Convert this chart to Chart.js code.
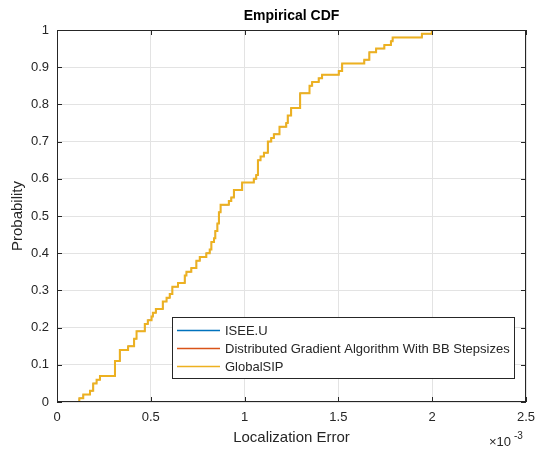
<!DOCTYPE html>
<html>
<head>
<meta charset="utf-8">
<script src="https://cdn.jsdelivr.net/npm/chart.js@4.4.1/dist/chart.umd.min.js"></script>
<style>
  html, body { margin: 0; padding: 0; background: #fff; }
  #wrap { width: 536px; height: 452px; }
</style>
</head>
<body>
<div id="wrap"><canvas id="cdf"></canvas></div>
<script>
// step positions (x10^-3) and the cdf value reached at each step
const errX = [0.119, 0.119, 0.140, 0.176, 0.193, 0.211, 0.229, 0.309, 0.335, 0.379, 0.411, 0.424,
  0.468, 0.484, 0.504, 0.511, 0.527, 0.564, 0.584, 0.601, 0.615, 0.645, 0.681, 0.690, 0.716,
  0.743, 0.761, 0.796, 0.814, 0.823, 0.837, 0.844, 0.855, 0.863, 0.872, 0.916, 0.929, 0.943,
  0.987, 1.049, 1.062, 1.071, 1.085, 1.103, 1.124, 1.142, 1.156, 1.186, 1.222, 1.230, 1.248,
  1.296, 1.346, 1.360, 1.395, 1.413, 1.502, 1.520, 1.638, 1.665, 1.701, 1.745, 1.780, 1.789,
  1.945, 1.998];
const cdfP = [0, 0.01, 0.02, 0.03, 0.05, 0.06, 0.07, 0.11, 0.14, 0.15, 0.17, 0.19,
  0.21, 0.22, 0.23, 0.24, 0.25, 0.27, 0.28, 0.29, 0.31, 0.32, 0.34, 0.35, 0.36,
  0.38, 0.39, 0.40, 0.41, 0.43, 0.44, 0.46, 0.48, 0.51, 0.53, 0.54, 0.55, 0.57,
  0.59, 0.60, 0.61, 0.65, 0.66, 0.67, 0.70, 0.71, 0.72, 0.74, 0.75, 0.77, 0.79,
  0.83, 0.85, 0.86, 0.87, 0.88, 0.89, 0.91, 0.92, 0.94, 0.95, 0.96, 0.97, 0.98,
  0.99, 1.00];

const seriesNames = ['ISEE.U', 'Distributed Gradient Algorithm With BB Stepsizes', 'GlobalSIP'];
const seriesColors = ['#0072BD', '#D95319', '#EDB120'];
const xTicks = [0, 0.5, 1, 1.5, 2, 2.5];
const yTicks = [0, 0.1, 0.2, 0.3, 0.4, 0.5, 0.6, 0.7, 0.8, 0.9, 1];

const FONT = '"Liberation Sans", Arial, Helvetica, sans-serif';
const INK = '#262626';

const points = errX.map((x, i) => ({x: x, y: cdfP[i]}));

// frame, inward ticks, titles, exponent and legend, drawn matlab style
const matlabBits = {
  id: 'matlabBits',
  afterDraw(chart) {
    const ctx = chart.ctx;
    const a = chart.chartArea;
    const sx = chart.scales.x, sy = chart.scales.y;
    ctx.save();
    ctx.strokeStyle = INK;
    ctx.lineWidth = 1;
    ctx.strokeRect(a.left + 0.5, a.top + 0.5, a.right - a.left - 1, a.bottom - a.top - 1);
    ctx.beginPath();
    xTicks.forEach(t => {
      const px = Math.round(sx.getPixelForValue(t)) + 0.5;
      ctx.moveTo(px, a.bottom); ctx.lineTo(px, a.bottom - 5);
      ctx.moveTo(px, a.top); ctx.lineTo(px, a.top + 5);
    });
    yTicks.forEach(t => {
      const py = Math.round(sy.getPixelForValue(t)) + 0.5;
      ctx.moveTo(a.left, py); ctx.lineTo(a.left + 5, py);
      ctx.moveTo(a.right, py); ctx.lineTo(a.right - 5, py);
    });
    ctx.stroke();

    ctx.fillStyle = '#000';
    ctx.font = 'bold 14px ' + FONT;
    ctx.textAlign = 'center';
    ctx.textBaseline = 'middle';
    ctx.fillText('Empirical CDF', (a.left + a.right) / 2, 16);

    ctx.fillStyle = INK;
    ctx.font = '15px ' + FONT;
    ctx.fillText('Localization Error', (a.left + a.right) / 2, 438);
    ctx.save();
    ctx.translate(18, (a.top + a.bottom) / 2);
    ctx.rotate(-Math.PI / 2);
    ctx.fillText('Probability', 0, 0);
    ctx.restore();

    // x10^-3
    ctx.textAlign = 'left';
    ctx.font = '13px ' + FONT;
    ctx.fillText('\u00d710', 489, 442);
    ctx.font = '10px ' + FONT;
    ctx.fillText('-3', 514, 436);

    // legend box
    const lx = 172, ly = 317, lw = 342, lh = 61;
    ctx.fillStyle = '#fff';
    ctx.fillRect(lx, ly, lw, lh);
    ctx.strokeStyle = INK;
    ctx.strokeRect(lx + 0.5, ly + 0.5, lw, lh);
    ctx.font = '13px ' + FONT;
    const rows = [330, 348, 366];
    chart.data.datasets.forEach((ds, i) => {
      ctx.strokeStyle = ds.borderColor;
      ctx.lineWidth = 1.5;
      ctx.beginPath();
      ctx.moveTo(177, rows[i] + 0.5);
      ctx.lineTo(220, rows[i] + 0.5);
      ctx.stroke();
      ctx.fillStyle = INK;
      ctx.fillText(ds.label, 225, rows[i] + 1);
    });
    ctx.restore();
  }
};

new Chart(document.getElementById('cdf'), {
  type: 'scatter',
  data: {
    datasets: seriesNames.map((name, i) => ({
      label: name,
      data: points,
      showLine: true,
      stepped: 'before',
      borderColor: seriesColors[i],
      backgroundColor: seriesColors[i],
      borderWidth: i === 2 ? 2 : 0.8,
      pointRadius: 0,
      order: 3 - i
    }))
  },
  options: {
    responsive: true,
    maintainAspectRatio: false,
    animation: false,
    events: [],
    layout: {padding: {top: 30, right: 10, left: 0, bottom: 0}},
    plugins: {legend: {display: false}, title: {display: false}, tooltip: {enabled: false}},
    scales: {
      x: {
        type: 'linear', min: 0, max: 2.5,
        afterFit: s => { s.height = 50; s.paddingLeft = 0; s.paddingRight = 0; },
        afterBuildTicks: s => { s.ticks = xTicks.map(v => ({value: v})); },
        border: {display: false},
        grid: {color: '#e3e3e3', drawTicks: false},
        ticks: {color: INK, padding: 8, font: {family: FONT, size: 13}, maxRotation: 0,
          callback: v => String(v)}
      },
      y: {
        type: 'linear', min: 0, max: 1,
        afterFit: s => { s.width = 57; s.paddingTop = 0; s.paddingBottom = 0; },
        afterBuildTicks: s => { s.ticks = yTicks.map(v => ({value: v})); },
        border: {display: false},
        grid: {color: '#e3e3e3', drawTicks: false},
        ticks: {color: INK, padding: 8, font: {family: FONT, size: 13},
          callback: v => String(v)}
      }
    }
  },
  plugins: [matlabBits]
});
</script>
</body>
</html>
